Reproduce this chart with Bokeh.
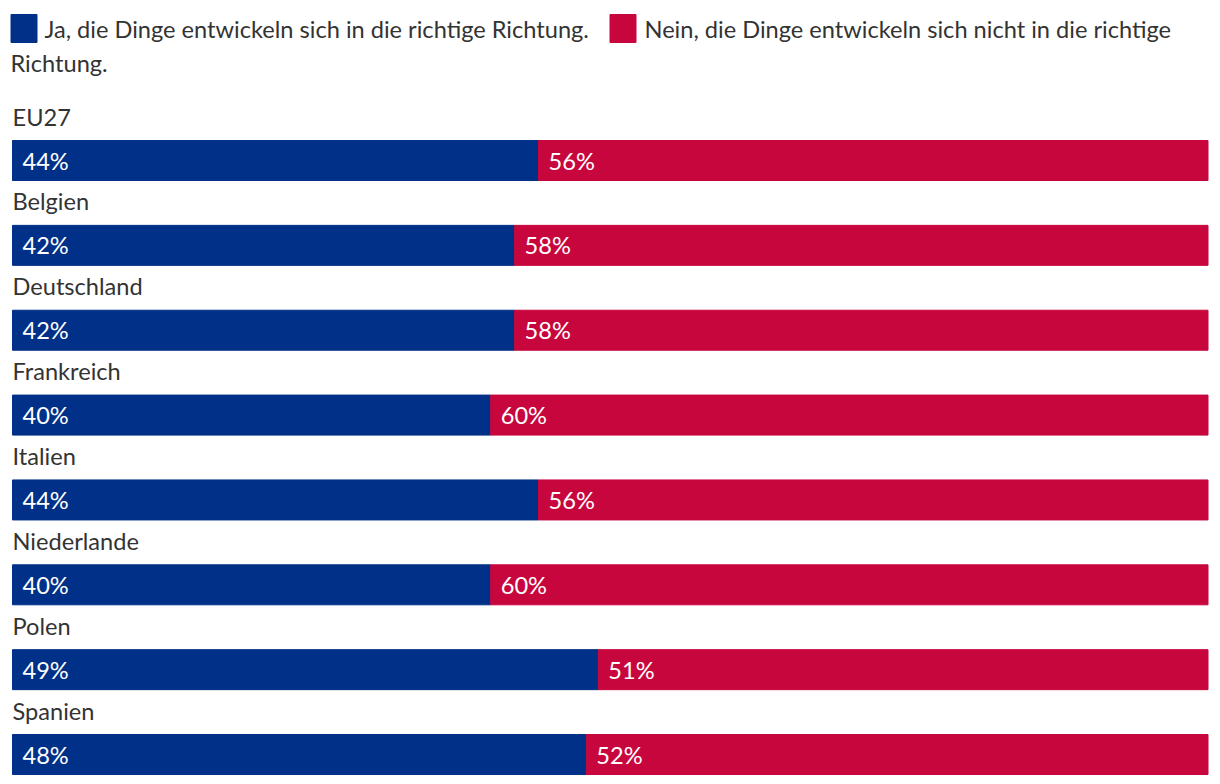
from bokeh.plotting import figure
from bokeh.models import Range1d, ColumnDataSource
from bokeh.core.properties import value
from bokeh.embed import file_html
from bokeh.resources import INLINE

countries = ["EU27", "Belgien", "Deutschland", "Frankreich", "Italien", "Niederlande", "Polen", "Spanien"]
ja = [44, 42, 42, 40, 44, 40, 49, 48]
nein = [56, 58, 58, 60, 56, 60, 51, 52]
series_names = ["Ja, die Dinge entwickeln sich in die richtige Richtung.",
                "Nein, die Dinge entwickeln sich nicht in die richtige"]
series_wrap = "Richtung."

BLUE = "#003087"
RED = "#c8063e"
TEXT = "#333333"
FONT = "Lato"
FS = "23.6px"
W, H = 1220, 784

# layout: x 0..100 spans pixel 12..1207.5; row i centred at 160 + 84.86*i px
X0, XS = 12, 11.955
Y0, YS = 160, 84.86
def xd(px):
    return (px - X0) / XS
def yd(px):
    return (px - Y0) / YS

p = figure(width=W, height=H, output_backend="svg", toolbar_location=None,
           x_range=Range1d(xd(0), xd(W)), y_range=Range1d(yd(H), yd(0)),
           min_border=0, outline_line_color=None)
p.axis.visible = False
p.grid.visible = False
p.background_fill_color = "white"
p.border_fill_color = "white"

rows = list(range(len(countries)))
src = ColumnDataSource(dict(
    y=rows, country=countries, ja=ja, nein=nein,
    ja_end=ja, nein_start=ja, nein_end=[a + b for a, b in zip(ja, nein)],
    zero=[0] * len(rows),
    ja_lbl=[f"{v}%" for v in ja], nein_lbl=[f"{v}%" for v in nein],
    lbl_y=[r + yd(116) for r in rows],
))

bh = 40 / YS
p.hbar(y="y", left="zero", right="ja_end", height=bh, color=BLUE, source=src)
p.hbar(y="y", left="nein_start", right="nein_end", height=bh, color=RED, source=src)

p.text(x="zero", y="y", text="ja_lbl", x_offset=10, source=src, text_color="white",
       text_font=value(FONT), text_font_size=FS, text_baseline="middle")
p.text(x="nein_start", y="y", text="nein_lbl", x_offset=10, source=src, text_color="white",
       text_font=value(FONT), text_font_size=FS, text_baseline="middle")
p.text(x="zero", y="lbl_y", text="country", x_offset=0, source=src, text_color=TEXT,
       text_font=value(FONT), text_font_size=FS, text_baseline="middle")

# legend
p.rect(x=[xd(23.5), xd(622.5)], y=[yd(28), yd(28)], width=26, height=28,
       width_units="screen", height_units="screen", color=[BLUE, RED])
p.text(x=[xd(44), xd(644)], y=[yd(28), yd(28)], text=series_names, text_color=TEXT,
       text_font=value(FONT), text_font_size=FS, text_baseline="middle")
p.text(x=[xd(10)], y=[yd(62)], text=[series_wrap], text_color=TEXT,
       text_font=value(FONT), text_font_size=FS, text_baseline="middle")

open("out.html", "w").write(file_html(p, INLINE))
